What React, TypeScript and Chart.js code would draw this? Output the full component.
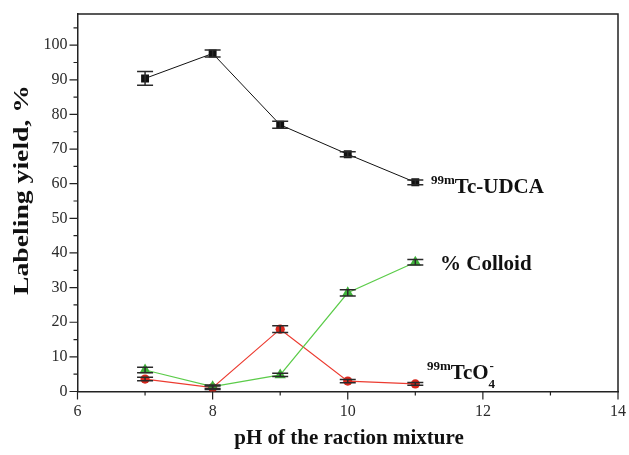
import { useEffect, useRef } from 'react';
import { Chart, registerables } from 'chart.js';

Chart.register(...registerables);

const FONT = '"Liberation Serif", "Times New Roman", serif';

const PH = [7, 8, 9, 10, 11];
const UDCA = [90.4, 97.6, 77.0, 68.5, 60.4];
const UDCA_ERR = [2.0, 1.0, 1.0, 0.7, 0.7];
const COLLOID = [6.2, 1.4, 4.8, 28.5, 37.3];
const COLLOID_ERR = [0.8, 0.5, 0.5, 0.9, 0.8];
const TCO4 = [3.6, 1.1, 18.0, 3.0, 2.2];
const TCO4_ERR = [0.5, 0.5, 1.0, 0.5, 0.4];

const X_TICKS = [6, 8, 10, 12, 14];
const Y_TICKS = [0, 10, 20, 30, 40, 50, 60, 70, 80, 90, 100];

const AXIS_COLOR = '#222222';

function pts(ys: number[]) {
  return PH.map((x, i) => ({ x, y: ys[i] }));
}

export default function App() {
  const ref = useRef<HTMLCanvasElement>(null);

  useEffect(() => {
    if (!ref.current) return;
    const errors: number[][] = [UDCA_ERR, COLLOID_ERR, TCO4_ERR];

    const errPlugin = {
      id: 'errbars',
      afterDatasetsDraw(chart: any) {
        const ctx = chart.ctx;
        const xs = chart.scales.x;
        const ys = chart.scales.y;
        ctx.save();
        ctx.strokeStyle = '#2a2a2a';
        ctx.lineWidth = 1.5;
        chart.data.datasets.forEach((ds: any, di: number) => {
          ds.data.forEach((p: any, i: number) => {
            const e = errors[di][i];
            const px = xs.getPixelForValue(p.x);
            const y1 = ys.getPixelForValue(p.y + e);
            const y2 = ys.getPixelForValue(p.y - e);
            ctx.beginPath();
            ctx.moveTo(px, y1);
            ctx.lineTo(px, y2);
            ctx.moveTo(px - 8, y1);
            ctx.lineTo(px + 8, y1);
            ctx.moveTo(px - 8, y2);
            ctx.lineTo(px + 8, y2);
            ctx.stroke();
          });
        });
        ctx.restore();
      },
    };

    const framePlugin = {
      id: 'frame',
      afterDraw(chart: any) {
        const ctx = chart.ctx;
        const { left, right, top, bottom } = chart.chartArea;
        const xs = chart.scales.x;
        const ys = chart.scales.y;
        ctx.save();
        ctx.strokeStyle = AXIS_COLOR;
        ctx.lineWidth = 1.5;
        ctx.beginPath();
        ctx.moveTo(left, top);
        ctx.lineTo(right, top);
        ctx.lineTo(right, bottom);
        ctx.stroke();
        ctx.lineWidth = 1.2;
        ctx.beginPath();
        for (let v = xs.min; v <= xs.max; v += 1) {
          const px = xs.getPixelForValue(v);
          const len = v % 2 === 0 ? 8 : 4;
          ctx.moveTo(px, bottom);
          ctx.lineTo(px, bottom + len);
        }
        for (let v = 0; v <= ys.max; v += 5) {
          const py = ys.getPixelForValue(v);
          const len = v % 10 === 0 ? 8 : 4;
          ctx.moveTo(left, py);
          ctx.lineTo(left - len, py);
        }
        ctx.stroke();

        // axis titles
        ctx.fillStyle = '#111';
        ctx.font = `bold 21px ${FONT}`;
        ctx.textAlign = 'center';
        ctx.textBaseline = 'alphabetic';
        ctx.fillText('pH of the raction mixture', 349, 444);

        ctx.save();
        ctx.translate(28, 190);
        ctx.rotate(-Math.PI / 2);
        const t = 'Labeling yield, %';
        const w = ctx.measureText(t).width;
        ctx.scale(210 / w, 1);
        ctx.fillText(t, 0, 0);
        ctx.restore();

        // series labels
        ctx.textAlign = 'left';
        const drawSup = (sup: string, main: string, x: number, y: number) => {
          ctx.font = `bold 13px ${FONT}`;
          ctx.fillText(sup, x, y - 9);
          const sw = ctx.measureText(sup).width;
          ctx.font = `bold 21px ${FONT}`;
          ctx.fillText(main, x + sw, y);
          return x + sw + ctx.measureText(main).width;
        };
        drawSup('99m', 'Tc-UDCA', 431, 193);
        ctx.font = `bold 21px ${FONT}`;
        ctx.fillText('% Colloid', 440, 270);
        const endX = drawSup('99m', 'TcO', 427, 379);
        ctx.font = `bold 13px ${FONT}`;
        ctx.fillText('4', endX, 388);
        ctx.fillText('-', endX + 1, 370);
        ctx.restore();
      },
    };

    const chart = new Chart(ref.current, {
      type: 'line',
      data: {
        datasets: [
          {
            label: '99mTc-UDCA',
            data: pts(UDCA),
            borderColor: '#111111',
            backgroundColor: '#111111',
            borderWidth: 1,
            pointStyle: 'rect',
            pointRadius: 5.6,
            pointBorderWidth: 0,
          },
          {
            label: '% Colloid',
            data: pts(COLLOID),
            borderColor: '#5ccc4a',
            backgroundColor: '#3fb13a',
            pointBackgroundColor: '#3fb13a',
            borderWidth: 1.2,
            pointStyle: 'triangle',
            pointRadius: 6.5,
            pointBorderWidth: 0,
          },
          {
            label: '99mTcO4-',
            data: pts(TCO4),
            borderColor: '#ec3b30',
            backgroundColor: '#d9261c',
            pointBackgroundColor: '#d9261c',
            borderWidth: 1.2,
            pointStyle: 'circle',
            pointRadius: 4.6,
            pointBorderWidth: 0,
          },
        ],
      },
      options: {
        animation: false,
        responsive: false,
        devicePixelRatio: 1,
        layout: { padding: { left: 0, top: 14, right: 8.5, bottom: 0 } },
        plugins: { legend: { display: false }, tooltip: { enabled: false } },
        scales: {
          x: {
            type: 'linear',
            min: 6,
            max: 14,
            afterBuildTicks: (s: any) => {
              s.ticks = X_TICKS.map((v) => ({ value: v }));
            },
            afterFit: (s: any) => {
              s.height = 63.5;
            },
            ticks: {
              font: { family: FONT, size: 16 },
              color: '#2a2a2a',
              padding: 3,
              maxRotation: 0,
            },
            grid: { color: 'transparent', drawOnChartArea: false, tickLength: 8 },
            border: { display: true, color: AXIS_COLOR, width: 1.5 },
          },
          y: {
            type: 'linear',
            min: 0,
            max: 109,
            afterBuildTicks: (s: any) => {
              s.ticks = Y_TICKS.map((v) => ({ value: v }));
            },
            afterFit: (s: any) => {
              s.width = 77.5;
            },
            ticks: {
              font: { family: FONT, size: 16 },
              color: '#2a2a2a',
              padding: 2,
            },
            grid: { color: 'transparent', drawOnChartArea: false, tickLength: 8 },
            border: { display: true, color: AXIS_COLOR, width: 1.5 },
          },
        },
      },
      plugins: [errPlugin, framePlugin],
    } as any);

    return () => chart.destroy();
  }, []);

  return (
    <div style={{ position: 'fixed', left: 0, top: 0, width: 629, height: 455 }}>
      <canvas ref={ref} width={629} height={455} style={{ display: 'block' }} />
    </div>
  );
}
